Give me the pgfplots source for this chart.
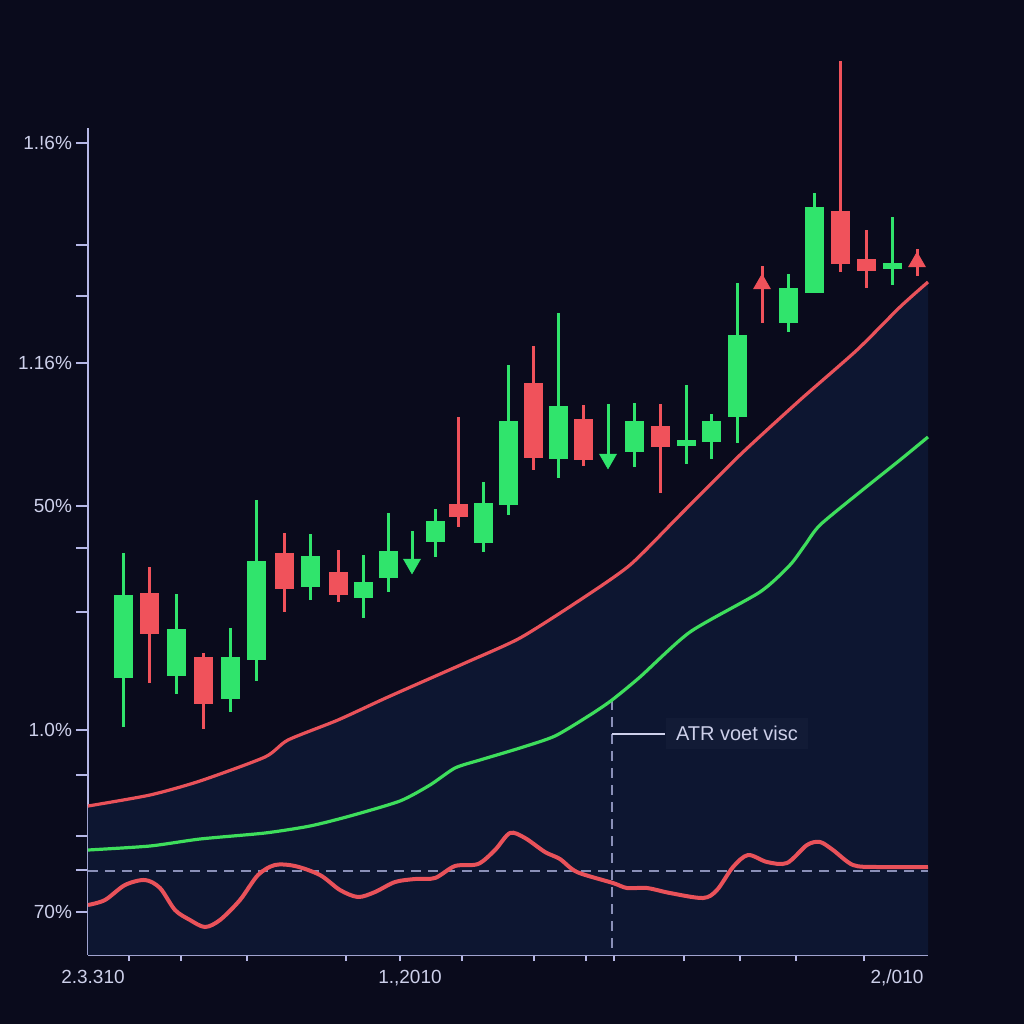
\documentclass[border=0pt]{standalone}
\usepackage{pgfplots}
\pgfplotsset{compat=1.18}
\usepackage{pgfplotstable}
\usepackage{fontspec}
\setmainfont{Liberation Sans}
\definecolor{bgc}{HTML}{0A0B1C}
\definecolor{fillc}{HTML}{0D1631}
\definecolor{cgreen}{HTML}{30E46C}
\definecolor{cred}{HTML}{F0525B}
\definecolor{lred}{HTML}{E9525A}
\definecolor{lgreen}{HTML}{3EDE5C}
\definecolor{axc}{HTML}{B6B8E6}
\definecolor{txtc}{HTML}{CDD0EA}
\definecolor{dashc}{HTML}{8A90B8}
\definecolor{boxc}{HTML}{121B36}

% x, body top, body bottom, wick top, wick bottom (screen units, y grows downwards)
\pgfplotstableread{
x   bt  bb  wt  wb
124 595 678 553 727
177 629 676 594 694
231 657 699 628 712
257 561 660 500 681
311 556 587 534 600
363 582 598 555 618
388 551 578 513 592
435 521 542 509 557
483 503 543 482 552
508 421 505 365 515
558 406 459 313 478
634 421 452 403 467
686 440 446 385 464
711 421 442 414 459
737 335 417 283 443
788 288 323 274 332
814 207 293 193 293
892 263 269 217 285
}\greendata
\pgfplotstableread{
x   bt  bb  wt  wb
150 593 634 567 683
204 657 704 653 729
285 553 589 533 612
338 572 595 550 602
458 504 517 417 527
533 383 458 346 470
583 419 460 405 466
660 426 447 404 493
840 211 264 61  272
866 259 271 230 288
}\reddata
% arrow candles: x, wick top, wick bottom
\pgfplotstableread{
x   wt  wb
412 531 562
608 404 457
}\greenarrows
\pgfplotstableread{
x   wt  wb
762 266 323
917 249 276
}\redarrows

\begin{document}
\begin{tikzpicture}
\fill[bgc] (-44pt,-34.5pt) rectangle (468pt,477.5pt);
\begin{axis}[
  scale only axis,
  width=420pt, height=413.5pt,
  xmin=88, xmax=928, ymin=128, ymax=955,
  y dir=reverse,
  clip=false,
  axis x line=bottom, axis y line=left,
  axis line style={axc, line width=1.3pt, -},
  tick style={axc, line width=1.1pt},
  major tick length=6pt,
  xtick align=center, ytick align=outside,
  xtick={129,181,247,346,400,462,534,586,614,684,740,796,864},
  xticklabels={},
  extra x ticks={93,410,897},
  extra x tick labels={{2.3.310},{1.,2010},{2,/010}},
  extra x tick style={major tick length=0pt, xticklabel style={yshift=-4pt}},
  ytick={143,245,296,363,506,548,612,730,775,836,870,912},
  yticklabels={{1.!6\%},,,{1.16\%},{50\%},,,{1.0\%},,,,{70\%}},
  ticklabel style={font=\fontsize{9.5}{11}\selectfont, text=txtc},
  yticklabel style={xshift=1.5pt},
]
% area below the upper red line
\addplot[fill=fillc, draw=none, forget plot] coordinates {
(88,806) (150,795) (200,781) (265,757) (288,740) (338,720) (388,697) (465,663)
(520,638) (580,600) (630,565) (680,515) (740,455) (800,400) (857,350) (900,307) (928,282)
(928,955) (88,955)};
% dashed reference lines
\addplot[dashc, line width=0.8pt, dash pattern=on 5pt off 3.5pt] coordinates {(88,871) (928,871)};
\addplot[dashc, line width=0.8pt, dash pattern=on 5pt off 3.5pt] coordinates {(612,700) (612,955)};
\addplot[txtc, line width=0.7pt] coordinates {(612,734) (665,734)};
% upper red line
\addplot[lred, line width=1.6pt, smooth, tension=0.4] coordinates {
(88,806) (150,795) (200,781) (265,757) (288,740) (338,720) (388,697) (465,663)
(520,638) (580,600) (630,565) (680,515) (740,455) (800,400) (857,350) (900,307) (928,282)};
% green line
\addplot[lgreen, line width=1.6pt, smooth, tension=0.4] coordinates {
(88,850) (150,846) (200,839) (265,833) (310,826) (350,816) (400,801) (430,785)
(455,768) (480,760) (520,748) (555,736) (590,715) (612,700) (640,677) (690,632)
(760,592) (790,565) (805,545) (820,525) (860,492) (900,460) (928,437)};
% lower red oscillating line
\addplot[lred, line width=2pt, smooth, tension=0.5] coordinates {
(88,905) (105,900) (125,885) (145,880) (160,888) (175,910) (190,920) (205,927)
(220,920) (240,900) (258,875) (275,865) (295,866) (320,875) (340,890) (358,897)
(375,892) (395,882) (415,879) (435,878) (455,866) (478,864) (495,850) (510,833)
(525,838) (545,852) (560,859) (577,872) (613,883) (627,888) (647,888) (670,893)
(703,898) (717,890) (733,867) (748,855) (767,862) (787,863) (807,845) (820,842)
(833,850) (853,865) (877,867) (928,867)};
% wicks
\addplot[draw=none, mark=none, forget plot, error bars/.cd, y dir=plus, y explicit, error mark=none,
  error bar style={draw=cgreen, line width=1.5pt}]
  table[x=x, y=wt, y error expr=\thisrow{wb}-\thisrow{wt}] {\greendata};
\addplot[draw=none, mark=none, forget plot, error bars/.cd, y dir=plus, y explicit, error mark=none,
  error bar style={draw=cred, line width=1.5pt}]
  table[x=x, y=wt, y error expr=\thisrow{wb}-\thisrow{wt}] {\reddata};
\addplot[draw=none, mark=none, forget plot, error bars/.cd, y dir=plus, y explicit, error mark=none,
  error bar style={draw=cgreen, line width=1.5pt}]
  table[x=x, y=wt, y error expr=\thisrow{wb}-\thisrow{wt}] {\greenarrows};
\addplot[draw=none, mark=none, forget plot, error bars/.cd, y dir=plus, y explicit, error mark=none,
  error bar style={draw=cred, line width=1.5pt}]
  table[x=x, y=wt, y error expr=\thisrow{wb}-\thisrow{wt}] {\redarrows};
% bodies
\addplot[draw=none, mark=none, forget plot, error bars/.cd, y dir=plus, y explicit, error mark=none,
  error bar style={draw=cgreen, line width=9.5pt, line cap=butt}]
  table[x=x, y=bt, y error expr=\thisrow{bb}-\thisrow{bt}] {\greendata};
\addplot[draw=none, mark=none, forget plot, error bars/.cd, y dir=plus, y explicit, error mark=none,
  error bar style={draw=cred, line width=9.5pt, line cap=butt}]
  table[x=x, y=bt, y error expr=\thisrow{bb}-\thisrow{bt}] {\reddata};
% arrow heads
\addplot[only marks, mark=triangle*, mark size=4.8pt, color=cgreen, mark options={rotate=180, draw=cgreen, fill=cgreen}]
  coordinates {(412,564) (608,459)};
\addplot[only marks, mark=triangle*, mark size=4.8pt, color=cred, mark options={draw=cred, fill=cred}]
  coordinates {(762,284) (917,262)};
% annotation
\node[fill=boxc, text=txtc, font=\fontsize{10}{12}\selectfont, inner xsep=5pt, minimum height=15.5pt]
  at (axis cs:737,733) {ATR voet visc};
\end{axis}
\end{tikzpicture}
\end{document}
